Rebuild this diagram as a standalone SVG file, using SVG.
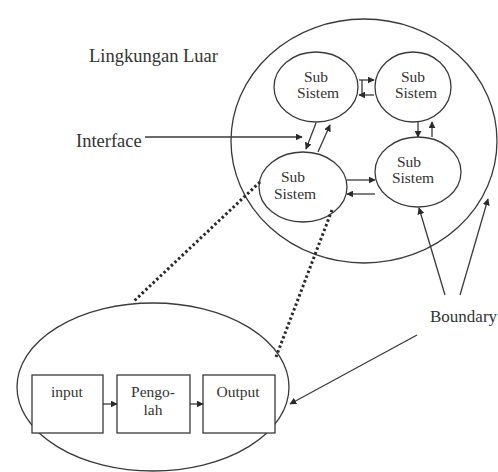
<svg xmlns="http://www.w3.org/2000/svg" width="498" height="472" viewBox="0 0 498 472">
  <style>
    .shape { fill: none; stroke: #3a3a3a; stroke-width: 1.3; }
    .box { fill: #fff; stroke: #3a3a3a; stroke-width: 1.3; }
    .line { fill: none; stroke: #3a3a3a; stroke-width: 1.3; }
    .dots { fill: none; stroke: #2a2a2a; stroke-width: 3; stroke-dasharray: 2.5 2.5; }
    text { font-family: "Liberation Serif", "Times New Roman", serif; fill: #333; }
    .lbl { font-size: 18.5px; }
    .node { font-size: 15.5px; text-anchor: middle; }
  </style>
  <defs>
    <marker id="arrow" viewBox="0 0 10 10" refX="9" refY="5" markerWidth="7" markerHeight="7" markerUnits="userSpaceOnUse" orient="auto">
      <path d="M0,0 L10,5 L0,10 z" fill="#2a2a2a"/>
    </marker>
  </defs>
  <rect width="498" height="472" fill="#fff"/>

  <!-- outer boundary of the system -->
  <g id="boundary-circle">
    <ellipse class="shape" cx="364" cy="141" rx="133" ry="122"/>
  </g>

  <g id="label-lingkungan">
    <text class="lbl" x="89" y="62">Lingkungan Luar</text>
  </g>
  <g id="label-interface">
    <text class="lbl" x="76" y="147">Interface</text>
  </g>
  <g id="label-boundary">
    <text class="lbl" x="430" y="322" style="font-size:17px">Boundary</text>
  </g>

  <!-- subsystems -->
  <g id="sub-tl">
    <ellipse class="shape" cx="316" cy="87" rx="42" ry="35"/>
    <text class="node" x="316" y="82">Sub</text>
    <text class="node" x="318" y="98">Sistem</text>
  </g>
  <g id="sub-tr">
    <ellipse class="shape" cx="413" cy="87" rx="38" ry="35"/>
    <text class="node" x="413" y="82">Sub</text>
    <text class="node" x="416" y="98">Sistem</text>
  </g>
  <g id="sub-bl">
    <ellipse class="shape" cx="303" cy="187" rx="44" ry="35"/>
    <text class="node" x="293" y="182">Sub</text>
    <text class="node" x="295" y="199">Sistem</text>
  </g>
  <g id="sub-br">
    <ellipse class="shape" cx="418" cy="172" rx="43" ry="35"/>
    <text class="node" x="409" y="167">Sub</text>
    <text class="node" x="413" y="183">Sistem</text>
  </g>

  <!-- detail of one subsystem -->
  <g id="detail-ellipse">
    <ellipse class="shape" cx="153" cy="387" rx="136" ry="84"/>
  </g>
  <g id="box-input">
    <rect class="box" x="32" y="375" width="71" height="58"/>
    <text class="node" x="67" y="397">input</text>
  </g>
  <g id="box-pengolah">
    <rect class="box" x="117" y="375" width="73" height="58"/>
    <text class="node" x="153" y="397">Pengo-</text>
    <text class="node" x="153" y="415">lah</text>
  </g>
  <g id="box-output">
    <rect class="box" x="203" y="375" width="72" height="58"/>
    <text class="node" x="238" y="397">Output</text>
  </g>

  <g id="connectors">
    <!-- interface -->
    <line class="line" x1="145" y1="137" x2="302" y2="137" marker-end="url(#arrow)"/>
    <!-- top-left <-> top-right -->
    <line class="line" x1="359" y1="80" x2="374" y2="80" marker-end="url(#arrow)"/>
    <line class="line" x1="374" y1="95" x2="359" y2="95" marker-end="url(#arrow)"/>
    <line class="line" x1="362" y1="80" x2="362" y2="95"/>
    <!-- top-right <-> bottom-right -->
    <line class="line" x1="418" y1="122" x2="418" y2="137" marker-end="url(#arrow)"/>
    <line class="line" x1="432" y1="137" x2="432" y2="122" marker-end="url(#arrow)"/>
    <!-- top-left <-> bottom-left -->
    <line class="line" x1="316" y1="123" x2="306" y2="149" marker-end="url(#arrow)"/>
    <line class="line" x1="318" y1="152" x2="330" y2="125" marker-end="url(#arrow)"/>
    <!-- bottom-left <-> bottom-right -->
    <line class="line" x1="347" y1="180" x2="375" y2="180" marker-end="url(#arrow)"/>
    <line class="line" x1="375" y1="194" x2="347" y2="194" marker-end="url(#arrow)"/>
    <!-- boundary pointers -->
    <line class="line" x1="445" y1="295" x2="419" y2="208" marker-end="url(#arrow)"/>
    <line class="line" x1="460" y1="295" x2="488" y2="199" marker-end="url(#arrow)"/>
    <line class="line" x1="417" y1="335" x2="290" y2="404" marker-end="url(#arrow)"/>
    <!-- box flow -->
    <line class="line" x1="103" y1="404" x2="117" y2="404" marker-end="url(#arrow)"/>
    <line class="line" x1="190" y1="404" x2="203" y2="404" marker-end="url(#arrow)"/>
    <!-- zoom lines -->
    <line class="dots" x1="260" y1="182" x2="133" y2="302"/>
    <line class="dots" x1="332" y1="210" x2="276" y2="357"/>
  </g>
</svg>
